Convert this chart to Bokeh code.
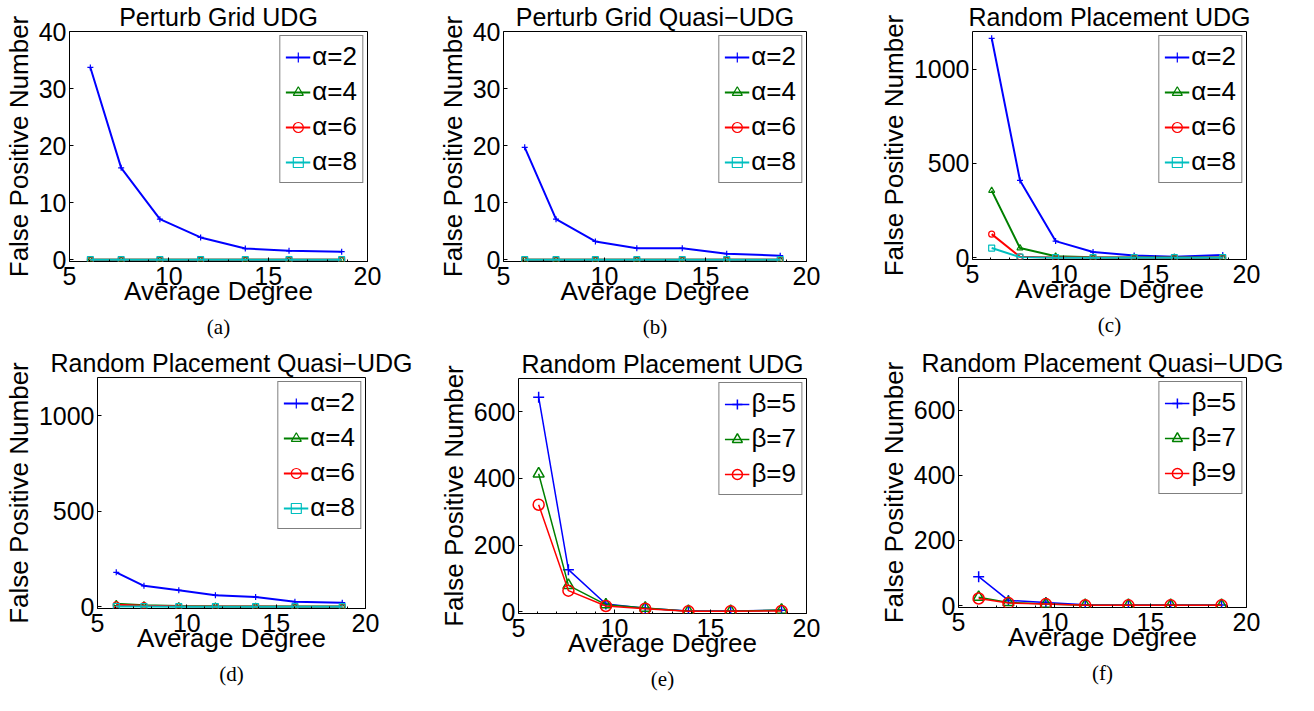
from bokeh.plotting import figure
from bokeh.layouts import row, column
from bokeh.models import (Range1d, FixedTicker, Legend, LegendItem, Title)
from bokeh.embed import file_html
from bokeh.resources import INLINE

# ---------------- data ----------------
avg_degree = [6.05, 7.6, 9.55, 11.6, 13.85, 16.05, 18.7]
x_ticks = [5, 10, 15, 20]

alpha_labels = ["α=2", "α=4", "α=6", "α=8"]
beta_labels = ["β=5", "β=7", "β=9"]

a_alpha2 = [33.7, 16.1, 7.1, 3.9, 1.95, 1.55, 1.4]
a_alpha4 = [0, 0, 0, 0, 0, 0, 0]
a_alpha6 = [0, 0, 0, 0, 0, 0, 0]
a_alpha8 = [0, 0, 0, 0, 0, 0, 0]

b_alpha2 = [19.7, 7.1, 3.2, 2.0, 2.0, 1.05, 0.7]
b_alpha4 = [0, 0, 0, 0, 0, 0, 0]
b_alpha6 = [0, 0, 0, 0, 0, 0, 0]
b_alpha8 = [0, 0, 0, 0, 0, 0, 0]

c_alpha2 = [1164, 410, 88, 30, 12, 5, 14]
c_alpha4 = [356, 51, 8, 2, 1, 1, 1]
c_alpha6 = [125, 5, 1, 1, 0, 0, 0]
c_alpha8 = [51, 3, 0, 0, 0, 0, 0]

d_alpha2 = [180, 109, 86, 60, 50, 26, 21]
d_alpha4 = [15, 8, 4, 2, 1, 1, 1]
d_alpha6 = [10, 5, 2, 1, 1, 0, 0]
d_alpha8 = [1, 1, 0, 0, 0, 0, 0]

e_beta5 = [644, 126, 23, 10, 2, 2, 4]
e_beta7 = [414, 79, 21, 11, 1, 1, 5]
e_beta9 = [321, 63, 17, 9, 1, 1, 2]

f_beta5 = [89, 16, 10, 3, 2, 2, 2]
f_beta7 = [26, 10, 5, 1, 1, 1, 1]
f_beta9 = [22, 8, 5, 1, 1, 1, 1]

titles = ["Perturb Grid UDG", "Perturb Grid Quasi\u2212UDG", "Random Placement UDG",
          "Random Placement Quasi\u2212UDG", "Random Placement UDG", "Random Placement Quasi\u2212UDG"]
captions = ["(a)", "(b)", "(c)", "(d)", "(e)", "(f)"]

# ---------------- styles ----------------
BLUE = "#0000ff"
GREEN = "#008000"
RED = "#ff0000"
CYAN = "#00bfbf"
FONT = "Liberation Sans"
SERIF = "Liberation Serif"

alpha_styles = [(BLUE, "cross"), (GREEN, "triangle"), (RED, "circle"), (CYAN, "square")]
beta_styles = [(BLUE, "cross"), (GREEN, "triangle"), (RED, "circle")]


def panel(title, caption, series, labels, styles, ymax, yticks, geom, big=False):
    w, h, left, right, top, bottom = geom
    p = figure(width=w, height=h, output_backend="svg", toolbar_location=None,
               x_range=Range1d(5, 20), y_range=Range1d(-0.008 * ymax, ymax),
               min_border_left=left, min_border_right=right,
               min_border_top=top, min_border_bottom=bottom)
    try:
        p.frame_align = False
    except Exception:
        pass
    p.title.text = title
    p.title.align = "center"
    p.title.text_font = FONT
    p.title.text_font_size = "25px"
    p.title.text_font_style = "normal"
    p.title.text_color = "black"
    p.title.standoff = 1
    p.grid.visible = False
    p.outline_line_color = "black"
    p.outline_line_width = 1
    p.background_fill_color = "white"
    p.border_fill_color = "white"

    for ax in p.xaxis:
        ax.ticker = FixedTicker(ticks=x_ticks, minor_ticks=list(range(5, 21)))
        ax.axis_label = "Average Degree"
        ax.axis_label_standoff = -12
        ax.major_label_standoff = 5
    for ax in p.yaxis:
        ax.ticker = FixedTicker(ticks=yticks)
        ax.axis_label = "False Positive Number"
        ax.axis_label_standoff = 2
        ax.major_label_standoff = 3
    for ax in list(p.xaxis) + list(p.yaxis):
        ax.axis_label_text_font = FONT
        ax.axis_label_text_font_size = "26px"
        ax.axis_label_text_font_style = "normal"
        ax.major_label_text_font = FONT
        ax.major_label_text_font_size = "25px"
        ax.major_label_text_color = "black"
        ax.axis_label_text_color = "black"
        ax.axis_line_color = None
        ax.major_tick_in = 4
        ax.major_tick_out = 0
        ax.minor_tick_in = 2
        ax.minor_tick_out = 0
        ax.major_tick_line_color = "black"
        ax.minor_tick_line_color = "black"
    for ax in p.yaxis:
        ax.minor_tick_line_color = None

    items = []
    lw = 1.5 if big else 2
    ms = 11 if big else 6
    for ys, lab, (col, mk) in zip(series, labels, styles):
        ln = p.line(avg_degree, ys, line_color=col, line_width=lw)
        sc = p.scatter(avg_degree, ys, marker=mk, size=ms, line_color=col,
                       fill_color=None, line_width=1.5 if big else 1.2)
        items.append(LegendItem(label=lab, renderers=[ln, sc]))

    leg = Legend(items=items, location="top_right")
    leg.label_text_font = FONT
    leg.label_text_font_size = "26px"
    leg.label_text_color = "black"
    leg.glyph_width = 25
    leg.glyph_height = 30
    leg.label_height = 30
    leg.label_standoff = 2
    leg.spacing = 4
    leg.padding = 5
    leg.margin = 4
    leg.border_line_color = "black"
    leg.border_line_width = 1.5
    leg.background_fill_alpha = 1
    p.add_layout(leg)

    cap = Title(text=caption, align="center", text_font=SERIF, text_font_size="21px",
                text_font_style="normal", text_color="black", standoff=8)
    p.add_layout(cap, "below")
    return p


pa = panel(titles[0], captions[0], [a_alpha2, a_alpha4, a_alpha6, a_alpha8],
           alpha_labels, alpha_styles, 40, [0, 10, 20, 30, 40], (432, 346, 63, 65, 22, 85))
pb = panel(titles[1], captions[1], [b_alpha2, b_alpha4, b_alpha6, b_alpha8],
           alpha_labels, alpha_styles, 40, [0, 10, 20, 30, 40], (430, 346, 71, 56, 17, 85))
pc = panel(titles[2], captions[2], [c_alpha2, c_alpha4, c_alpha6, c_alpha8],
           alpha_labels, alpha_styles, 1200, [0, 500, 1000], (436, 346, 110, 52, 23, 87))
pd = panel(titles[3], captions[3], [d_alpha2, d_alpha4, d_alpha6, d_alpha8],
           alpha_labels, alpha_styles, 1200, [0, 500, 1000], (432, 349, 89, 67, 29, 87))
pe = panel(titles[4], captions[4], [e_beta5, e_beta7, e_beta9],
           beta_labels, beta_styles, 700, [0, 200, 400, 600], (430, 349, 86, 56, 32, 82), big=True)
pf = panel(titles[5], captions[5], [f_beta5, f_beta7, f_beta9],
           beta_labels, beta_styles, 700, [0, 200, 400, 600], (436, 349, 96, 52, 29, 88), big=True)

layout = row(column(pa, pd), column(pb, pe), column(pc, pf))

open("out.html", "w").write(file_html(layout, INLINE))
